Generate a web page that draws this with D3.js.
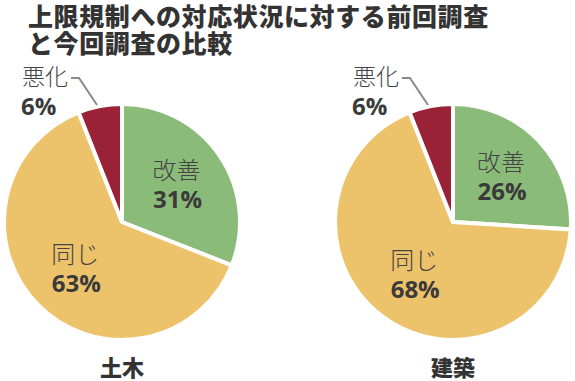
<!DOCTYPE html>
<html><head><meta charset="utf-8">
<script src="https://cdn.jsdelivr.net/npm/d3@7"></script>
<style>
body{margin:0;background:#fff;}
svg{display:block;}
</style></head>
<body><svg id="c" width="575" height="381"></svg>
<script>
const titleLines = ["上限規制への対応状況に対する前回調査", "と今回調査の比較"];
const categories = ["改善", "同じ", "悪化"];
const groups = ["土木", "建築"];
const valuesDoboku = [31, 63, 6];
const valuesKenchiku = [26, 68, 6];
const colors = ["#8bbb79", "#ecc36b", "#9a2237"];

const svg = d3.select("#c");
const jp = "'Noto Sans CJK JP', sans-serif";
const num = "'Open Sans', 'Noto Sans', sans-serif";

svg.append("g").selectAll("text").data(titleLines).join("text")
  .attr("x", 28).attr("y", (d,i)=>26 + i*27)
  .attr("font-family", jp).attr("font-weight", 900).attr("font-size", 25)
  .attr("letter-spacing", 0.6)
  .attr("fill", "#333").text(d=>d);

const pie = d3.pie().sort(null).value(d=>d);
const R = 118;
const arc = d3.arc().innerRadius(0).outerRadius(R);
const labelArc = d3.arc().innerRadius(66).outerRadius(66);

const charts = [
  {name: groups[0], values: valuesDoboku, cx: 122, cy: 222},
  {name: groups[1], values: valuesKenchiku, cx: 453, cy: 222}
];

charts.forEach(ch => {
  const g = svg.append("g").attr("transform", `translate(${ch.cx},${ch.cy})`);
  const arcs = pie(ch.values);
  g.selectAll("path").data(arcs).join("path")
    .attr("d", arc).attr("fill", (d,i)=>colors[i])
    .attr("stroke", "#fff").attr("stroke-width", 4).attr("stroke-linejoin", "miter");

  arcs.forEach((d,i) => {
    if (i < 2) {
      const [x,y] = labelArc.centroid(d);
      g.append("text").attr("x", x).attr("y", y - 6).attr("text-anchor", "middle")
        .attr("font-family", jp).attr("font-weight", 300).attr("font-size", 24).attr("fill", "#444")
        .text(categories[i]);
      g.append("text").attr("x", x + 1).attr("y", y + 23).attr("text-anchor", "middle")
        .attr("font-family", num).attr("font-weight", 700).attr("font-size", 24)
        .attr("fill", "#3a3a3a").text(d.data + "%");
    } else {
      g.append("text").attr("x", -100).attr("y", -137)
        .attr("font-family", jp).attr("font-weight", 300).attr("font-size", 23).attr("fill", "#444")
        .text(categories[i]);
      g.append("text").attr("x", -101).attr("y", -107)
        .attr("font-family", num).attr("font-weight", 700).attr("font-size", 24)
        .attr("fill", "#3a3a3a").text(d.data + "%");
      g.append("path").attr("d", "M-51,-144 H-43 L-25,-117")
        .attr("fill", "none").attr("stroke", "#8a8a8a").attr("stroke-width", 2);
    }
  });

  svg.append("text").attr("x", ch.cx).attr("y", 376).attr("text-anchor", "middle")
    .attr("font-family", jp).attr("font-weight", 900).attr("font-size", 22)
    .attr("fill", "#333").text(ch.name);
});
</script></body></html>
